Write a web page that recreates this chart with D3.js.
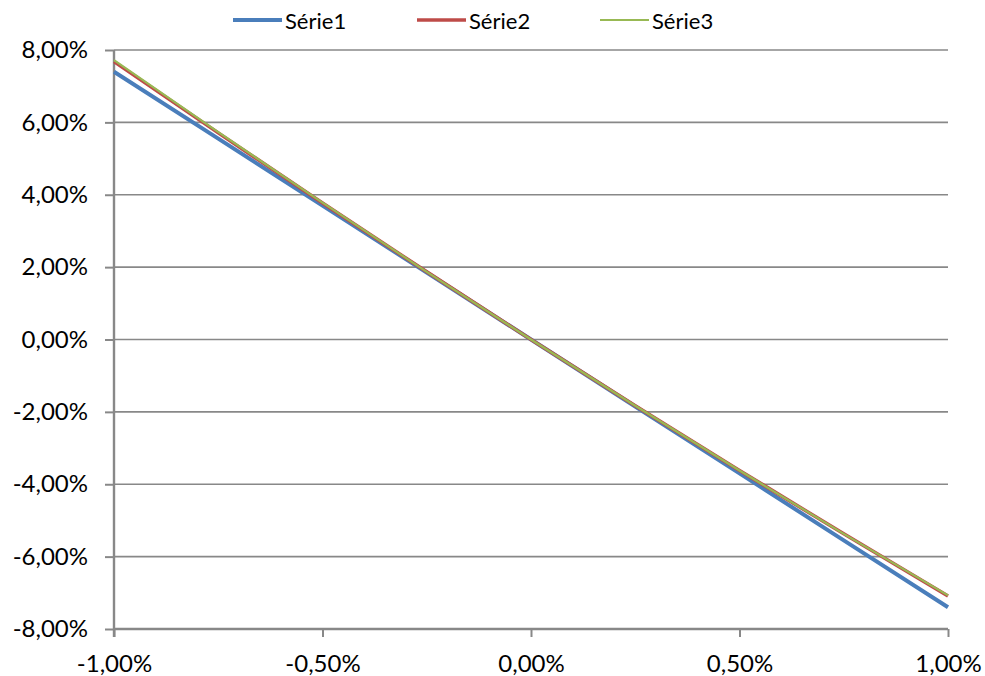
<!DOCTYPE html>
<html><head><meta charset="utf-8">
<script src="https://cdn.jsdelivr.net/npm/d3@7"></script>
<style>body{margin:0;background:#fff}svg{display:block}text{font-family:Lato,"Open Sans",sans-serif;fill:#000}</style>
</head><body>
<svg id="c" width="985" height="676"></svg>
<script>
const xValues = [-1, -0.75, -0.5, -0.25, 0, 0.25, 0.5, 0.75, 1];
const serie1 = [7.40, 5.55, 3.70, 1.85, 0, -1.85, -3.70, -5.55, -7.40];
const serie2 = [7.68, 5.71, 3.77, 1.87, 0, -1.83, -3.62, -5.37, -7.09];
const serie3 = [7.72, 5.73, 3.78, 1.87, 0, -1.83, -3.62, -5.37, -7.07];
const seriesNames = ["Série1", "Série2", "Série3"];
const yTicks = [-8, -6, -4, -2, 0, 2, 4, 6, 8];
const xTicks = [-1, -0.5, 0, 0.5, 1];

const colors = ["#4A7EBB", "#BE4B48", "#98B954"];
const widths = [4, 3.5, 2.2];
const svg = d3.select("#c");
const x = d3.scaleLinear().domain([-1, 1]).range([114, 948]);
const y = d3.scaleLinear().domain([-8, 8]).range([629, 50]);
const fmt = v => d3.format(".2f")(v).replace(".", ",").replace("\u2212", "-") + "%";

// gridlines
svg.append("g").selectAll("line").data(yTicks.filter(d => d !== -8)).join("line")
  .attr("x1", x(-1)).attr("x2", x(1)).attr("y1", d => y(d)).attr("y2", d => y(d))
  .attr("stroke", "#888").attr("stroke-width", 1.6);

// y axis
const ya = svg.append("g").attr("transform", `translate(${x(-1)},0)`)
  .call(d3.axisLeft(y).tickValues(yTicks).tickFormat(fmt).tickSize(9).tickPadding(17));
// x axis
const xa = svg.append("g").attr("transform", `translate(0,${y(-8)})`)
  .call(d3.axisBottom(x).tickValues(xTicks).tickFormat(fmt).tickSize(8).tickPadding(18));
[ya, xa].forEach(a => {
  a.select(".domain").attr("stroke", "#888").attr("stroke-width", 2.4);
  a.selectAll(".tick line").attr("stroke", "#888").attr("stroke-width", 2);
  a.selectAll("text").style("font-size", "24px").style("font-family", "Lato, sans-serif");
});
ya.select(".domain").attr("d", `M-0,${y(-8)+8}V${y(8)}`);
xa.select(".domain").attr("d", `M${x(-1)},0H${x(1)}`);

// lines
const all = [serie1, serie2, serie3];
const line = d3.line().x((d, i) => x(xValues[i])).y(d => y(d));
all.forEach((s, k) => {
  svg.append("path").datum(s).attr("d", line).attr("fill", "none")
    .attr("stroke", colors[k]).attr("stroke-width", widths[k]);
});

// legend
const legX = [233, 417, 600];
seriesNames.forEach((n, k) => {
  svg.append("line").attr("x1", legX[k]).attr("x2", legX[k] + 49).attr("y1", 20).attr("y2", 20)
    .attr("stroke", colors[k]).attr("stroke-width", widths[k]);
  svg.append("text").attr("x", legX[k] + 52).attr("y", 29).style("font-size", "22px").text(n);
});
</script>
</body></html>
